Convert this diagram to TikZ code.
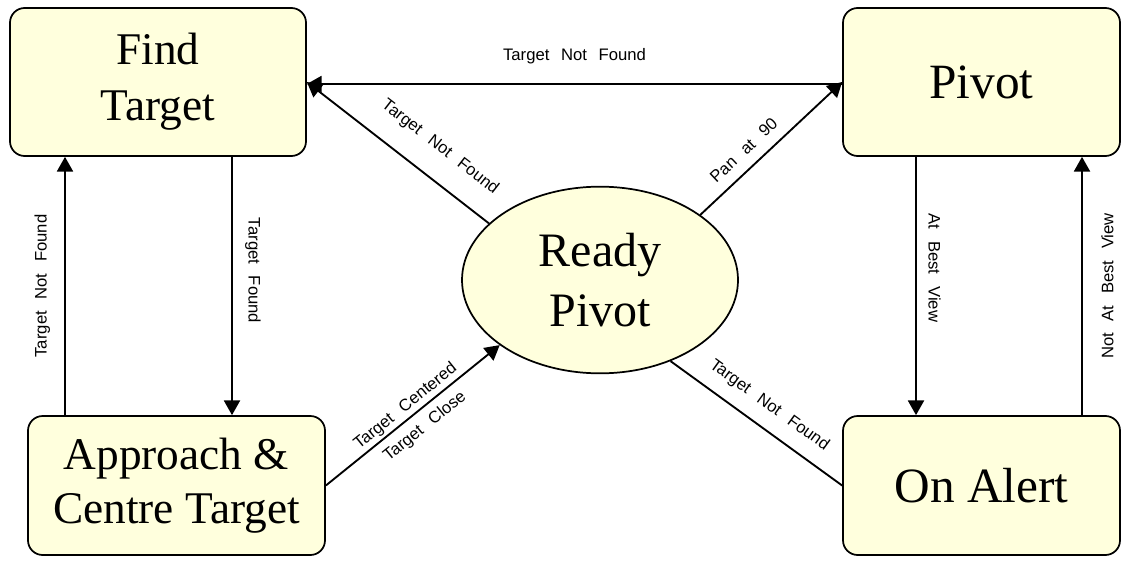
\documentclass[tikz,border=0pt]{standalone}
\usepackage{fontspec}
\setmainfont{Liberation Serif}
\newfontfamily\lblfont{Liberation Sans}
\usetikzlibrary{arrows.meta,shapes.geometric,calc}
\definecolor{boxfill}{RGB}{255,255,221}
\newcommand{\ws}{\hspace{0.7em}}
\begin{document}
\begin{tikzpicture}[x=0.75pt,y=-0.75pt,
  statebox/.style={draw, line width=1.3pt, fill=boxfill, rounded corners=11pt, align=center, inner sep=0pt},
  stateell/.style={draw, line width=1.3pt, fill=boxfill, ellipse, align=center, inner sep=0pt},
  conn/.style={line width=1.4pt},
  arr/.style={conn, -{Triangle[length=11pt,width=12pt]}},
  lbl/.style={font=\lblfont\fontsize{12.5}{14}\selectfont, inner sep=0pt}]
\useasboundingbox (0,0) rectangle (1130,563);
\fill[white] (0,0) rectangle (1130,563);

\node[statebox, minimum width=222pt, minimum height=111pt, font=\fontsize{34}{42}\selectfont] (ft) at (158,82) {Find\\Target};
\node[statebox, minimum width=207.75pt, minimum height=111pt, font=\fontsize{37}{44}\selectfont] (pv) at (981.5,82) {Pivot};
\node[statebox, minimum width=222.75pt, minimum height=104.25pt, font=\fontsize{34}{40}\selectfont] (ap) at (176.5,485.5) {Approach \&\\Centre Target};
\node[statebox, minimum width=207.75pt, minimum height=104.25pt, font=\fontsize{37}{44}\selectfont] (oa) at (981.5,485.5) {On Alert};
\node[stateell, minimum width=207pt, minimum height=140pt, font=\fontsize{36}{45}\selectfont] (rp) at (600,280) {Ready\\Pivot};

\draw[arr] ($(pv.west)+(0,2)$) -- ($(ft.east)+(0,2)$) node[lbl, midway, above=14pt] {Target\ws Not\ws Found};
\draw[arr] ($(ft.south)+(74,0)$) -- ($(ap.north)+(55.5,0)$) node[lbl, pos=0.44, xshift=15.75pt, rotate=-90] {Target\ws Found};
\draw[arr] ($(ap.north)+(-111.5,0)$) -- ($(ft.south)+(-93,0)$) node[lbl, midway, xshift=-17pt, rotate=90] {Target\ws Not\ws Found};
\draw[arr] ($(pv.south)+(-65.5,0)$) -- ($(oa.north)+(-65.5,0)$) node[lbl, pos=0.43, xshift=14pt, rotate=-90] {At\ws Best\ws View};
\draw[arr] ($(oa.north)+(100.5,0)$) -- ($(pv.south)+(100.5,0)$) node[lbl, midway, xshift=19pt, rotate=90] {Not\ws At\ws Best\ws View};

\draw[arr] (rp.153.6) -- (ft.east) node[lbl, pos=0.37, sloped, above=16pt] {Target\ws Not\ws Found};
\draw[arr] (rp.33.6) -- (pv.west) node[lbl, pos=0.39, sloped, above=8pt] {Pan\ws at\ws 90};
\draw[arr] (ap.east) -- (rp.213.7) node[lbl, pos=0.5, sloped, above=2pt] {Target\ws Centered} node[lbl, pos=0.51, sloped, below=6pt] {Target\ws Close};
\draw[conn] (rp.-49.6) -- (oa.west) node[lbl, pos=0.5, sloped, above=10pt] {Target\ws Not\ws Found};
\end{tikzpicture}
\end{document}
